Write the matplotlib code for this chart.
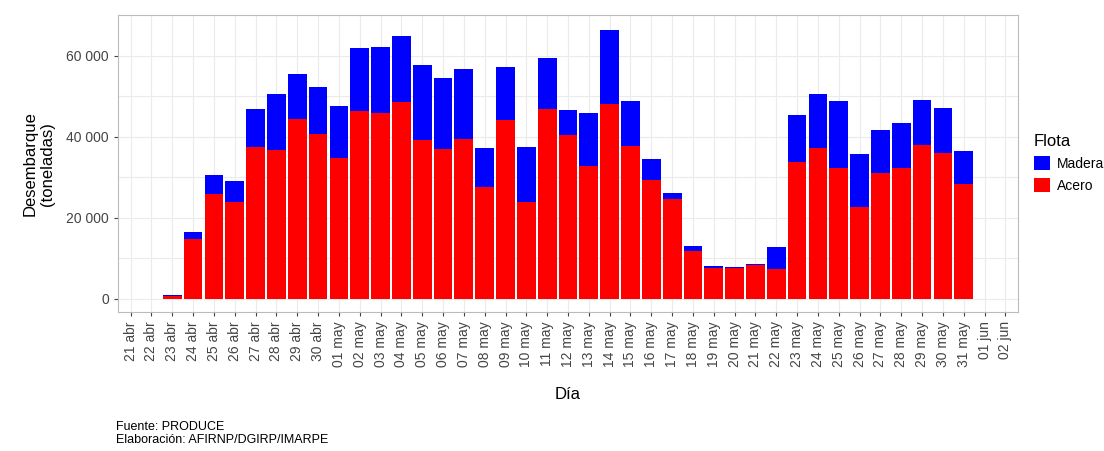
import matplotlib.pyplot as plt
import numpy as np

plt.rcParams['font.family'] = ['Liberation Sans', 'DejaVu Sans']

days = ["21 abr", "22 abr", "23 abr", "24 abr", "25 abr", "26 abr", "27 abr", "28 abr", "29 abr", "30 abr",
        "01 may", "02 may", "03 may", "04 may", "05 may", "06 may", "07 may", "08 may", "09 may", "10 may",
        "11 may", "12 may", "13 may", "14 may", "15 may", "16 may", "17 may", "18 may", "19 may", "20 may",
        "21 may", "22 may", "23 may", "24 may", "25 may", "26 may", "27 may", "28 may", "29 may", "30 may",
        "31 may", "01 jun", "02 jun"]
total = [0, 0, 800, 16500, 30600, 29100, 46900, 50600, 55600, 52300,
         47600, 62000, 62200, 64900, 57800, 54600, 56800, 37300, 57300, 37500,
         59500, 46700, 45900, 66400, 48900, 34600, 26200, 13100, 8100, 7900,
         8600, 12800, 45400, 50600, 48900, 35800, 41700, 43500, 49100, 47200,
         36500, 0, 0]
acero = [0, 0, 700, 14800, 25900, 24000, 37500, 36800, 44400, 40700,
         34800, 46400, 45900, 48600, 39300, 37000, 39500, 27700, 44200, 24000,
         46900, 40500, 32800, 48100, 37800, 29400, 24700, 11900, 7700, 7700,
         8400, 7400, 33800, 37300, 32300, 22700, 31100, 32300, 38000, 36000,
         28400, 0, 0]
madera = [t - a for t, a in zip(total, acero)]

fig = plt.figure(figsize=(11.04, 4.51), dpi=100)
ax = fig.add_axes([0.107, 0.308, 0.815, 0.658])
x = np.arange(len(days))
ax.bar(x, acero, width=0.9, color="#ff0000", label="Acero")
ax.bar(x, madera, bottom=acero, width=0.9, color="#0000ff", label="Madera")
ax.set_xlim(-0.6, len(days) - 0.4)
ax.set_ylim(-3300, 70000)
ax.set_yticks([0, 20000, 40000, 60000])
ax.set_yticklabels(["0", "20 000", "40 000", "60 000"], fontsize=10, color="#444444")
ax.set_yticks([10000, 30000, 50000], minor=True)
ax.set_xticks(x)
ax.set_xticklabels(days, rotation=90, fontsize=10, color="#444444")
ax.grid(True, which="both", color="#ebebeb", linewidth=0.8)
ax.set_axisbelow(True)
for s in ax.spines.values():
    s.set_color("#bbbbbb")
ax.tick_params(which="both", color="#444444", length=3)
ax.tick_params(which="minor", length=0)
ax.set_xlabel("Día", fontsize=12, labelpad=14)
ax.set_ylabel("Desembarque\n(toneladas)", fontsize=12, labelpad=8)
h, l = ax.get_legend_handles_labels()
fig.legend(h[::-1], l[::-1], title="Flota", loc="upper left", bbox_to_anchor=(0.925, 0.73),
           frameon=False, fontsize=10, title_fontsize=12, handlelength=1.2, handleheight=1.2,
           handletextpad=0.5, alignment="left")
fig.text(0.105, 0.01, "Fuente: PRODUCE\nElaboración: AFIRNP/DGIRP/IMARPE", fontsize=9, va="bottom")
fig.savefig("out.png")
